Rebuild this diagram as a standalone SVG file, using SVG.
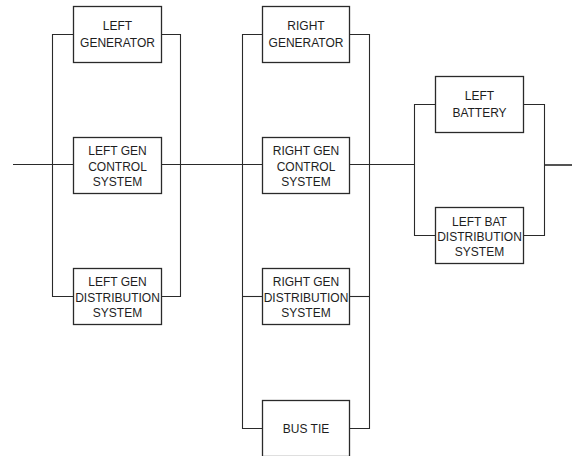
<svg xmlns="http://www.w3.org/2000/svg" width="572" height="456" viewBox="0 0 572 456">
  <style>
    .box { fill: #ffffff; stroke: #2a2a2a; stroke-width: 1.3; }
    .wire { fill: none; stroke: #2a2a2a; stroke-width: 1.1; }
    .lbl { font-family: "Liberation Sans", Arial, sans-serif; font-size: 12px; fill: #1e1e1e; text-anchor: middle; }
  </style>
  <rect width="572" height="456" fill="#ffffff"/>

  <!-- wiring between the parallel blocks -->
  <g id="connectors">
    <!-- input line -->
    <path class="wire" d="M13,164.5 H73"/>
    <!-- left generator branch rails -->
    <path class="wire" d="M73,34.5 H52.5 V296.5 H73"/>
    <path class="wire" d="M161,34.5 H180.5 V296.5 H161"/>
    <path class="wire" d="M161,164.5 H262"/>
    <!-- right generator branch rails -->
    <path class="wire" d="M262,34.5 H242.5 V428.5 H262"/>
    <path class="wire" d="M242.5,296.5 H262"/>
    <path class="wire" d="M350,34.5 H369.5 V428.5 H350"/>
    <path class="wire" d="M350,296.5 H369.5"/>
    <path class="wire" d="M350,164.5 H414.5"/>
    <!-- battery branch rails -->
    <path class="wire" d="M435,104.5 H414.5 V235.5 H435"/>
    <path class="wire" d="M523,104.5 H544.5 V235.5 H523"/>
    <!-- output line -->
    <path class="wire" d="M544.5,165 H572" style="stroke-width:1.6"/>
  </g>

  <g id="left-generator">
    <rect class="box" x="73.5" y="6.5" width="88" height="56"/>
    <text class="lbl" x="117.5" y="30">LEFT</text>
    <text class="lbl" x="117.5" y="46.5">GENERATOR</text>
  </g>
  <g id="left-gen-control">
    <rect class="box" x="73.5" y="137.5" width="88" height="56"/>
    <text class="lbl" x="117.5" y="155">LEFT GEN</text>
    <text class="lbl" x="117.5" y="170.5">CONTROL</text>
    <text class="lbl" x="117.5" y="186">SYSTEM</text>
  </g>
  <g id="left-gen-distribution">
    <rect class="box" x="73.5" y="268.5" width="88" height="56"/>
    <text class="lbl" x="117.5" y="286">LEFT GEN</text>
    <text class="lbl" x="117.5" y="301.5">DISTRIBUTION</text>
    <text class="lbl" x="117.5" y="317">SYSTEM</text>
  </g>

  <g id="right-generator">
    <rect class="box" x="262.5" y="6.5" width="87" height="56"/>
    <text class="lbl" x="306" y="30">RIGHT</text>
    <text class="lbl" x="306" y="46.5">GENERATOR</text>
  </g>
  <g id="right-gen-control">
    <rect class="box" x="262.5" y="137.5" width="87" height="56"/>
    <text class="lbl" x="306" y="155">RIGHT GEN</text>
    <text class="lbl" x="306" y="170.5">CONTROL</text>
    <text class="lbl" x="306" y="186">SYSTEM</text>
  </g>
  <g id="right-gen-distribution">
    <rect class="box" x="262.5" y="268.5" width="87" height="56"/>
    <text class="lbl" x="306" y="286">RIGHT GEN</text>
    <text class="lbl" x="306" y="301.5">DISTRIBUTION</text>
    <text class="lbl" x="306" y="317">SYSTEM</text>
  </g>
  <g id="bus-tie">
    <rect class="box" x="262.5" y="400.5" width="87" height="56"/>
    <text class="lbl" x="306" y="433">BUS TIE</text>
  </g>

  <g id="left-battery">
    <rect class="box" x="435.5" y="76.5" width="88" height="56"/>
    <text class="lbl" x="479.5" y="100">LEFT</text>
    <text class="lbl" x="479.5" y="116.5">BATTERY</text>
  </g>
  <g id="left-bat-distribution">
    <rect class="box" x="435.5" y="207.5" width="88" height="56"/>
    <text class="lbl" x="479.5" y="225.5">LEFT BAT</text>
    <text class="lbl" x="479.5" y="241">DISTRIBUTION</text>
    <text class="lbl" x="479.5" y="256">SYSTEM</text>
  </g>
</svg>
